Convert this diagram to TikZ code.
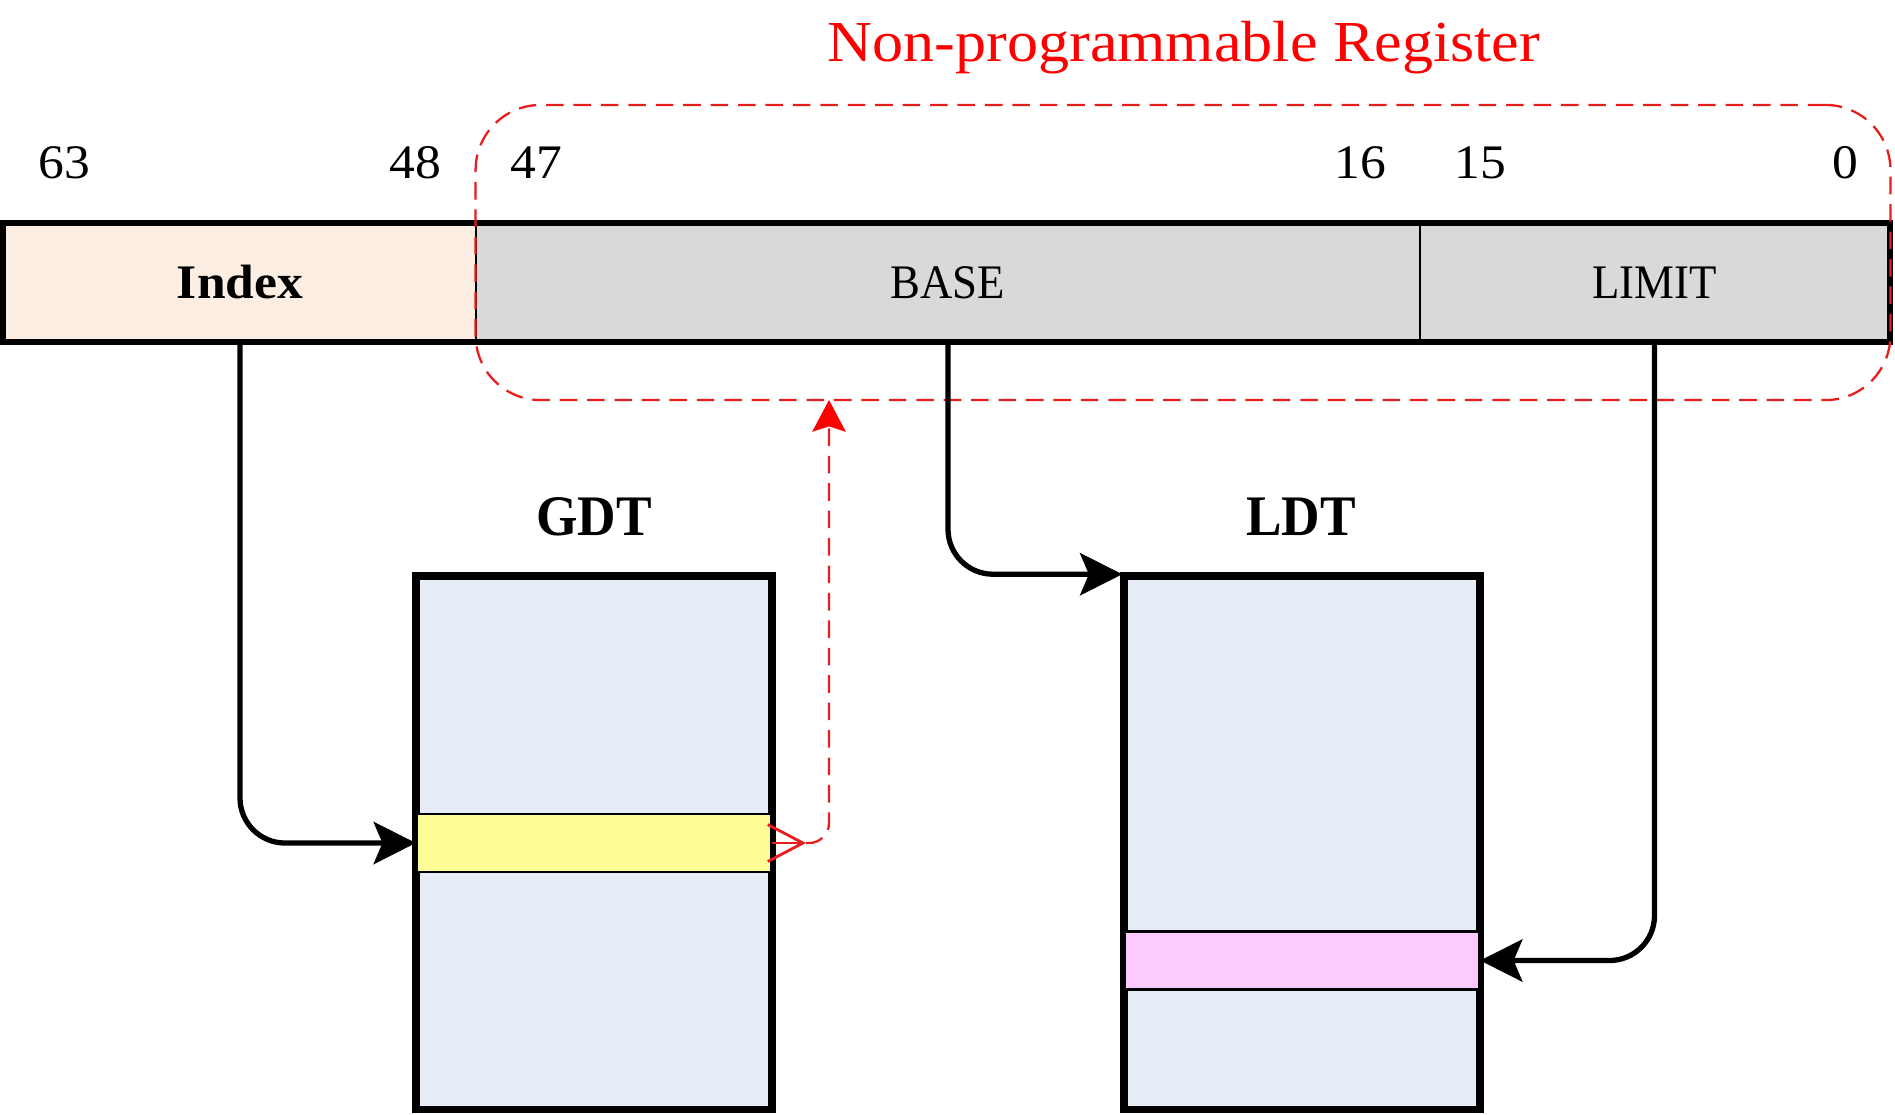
\documentclass[tikz,border=0pt]{standalone}
\usepackage{fontspec}
\setmainfont{Liberation Serif}[FakeStretch=1.07]
\newfontfamily\capsfont{Liberation Serif}[FakeStretch=0.93]
\usetikzlibrary{arrows.meta}
\definecolor{idxfill}{RGB}{252,238,226}
\definecolor{regfill}{RGB}{217,217,217}
\definecolor{tblue}{RGB}{230,237,247}
\definecolor{rowyellow}{RGB}{253,253,152}
\definecolor{rowpink}{RGB}{252,202,252}
\definecolor{npred}{RGB}{232,30,30}
\tikzset{
  lbl/.style={font=\fontsize{13.7}{16}\selectfont, inner sep=0pt},
  field/.style={draw, line width=0.6pt, minimum height=1.17cm, inner sep=0pt, font=\capsfont\fontsize{13.7}{16}\selectfont},
  tablebox/.style={draw, line width=1.5pt, fill=tblue, minimum width=3.54cm, minimum height=5.31cm, inner sep=0pt},
  rowbox/.style={draw, line width=0.6pt, minimum width=3.54cm, minimum height=0.58cm, inner sep=0pt},
  tabtitle/.style={font=\capsfont\fontsize{16.3}{19}\selectfont\bfseries, inner sep=0pt},
  conn/.style={line width=1.5pt, rounded corners=0.45cm, -{Stealth[length=12pt,width=12pt,inset=2.5pt]}},
  reddash/.style={draw=npred, line width=0.65pt, dash pattern=on 5pt off 2.8pt},
}
\begin{document}
\begin{tikzpicture}[x=0.01cm,y=-0.01cm]
\useasboundingbox[fill=white] (0,0) rectangle (1895,1114);
% title
\node[lbl, text=red, font=\fontsize{16.5}{19}\selectfont] (title) at (1184,48) {Non-programmable Register};
% bit numbers
\node[lbl] (n63) at (64,163) {63};
\node[lbl] (n48) at (415,163) {48};
\node[lbl] (n47) at (536,163) {47};
\node[lbl] (n16) at (1360,163) {16};
\node[lbl] (n15) at (1480,163) {15};
\node[lbl] (n0)  at (1845,163) {0};
% register fields
\node[field, fill=idxfill, minimum width=4.72cm, font=\fontsize{13.7}{16}\selectfont\bfseries] (idx) at (240,282.5) {Index};
\node[field, fill=regfill, minimum width=9.44cm] (base) at (948,282.5) {BASE};
\node[field, fill=regfill, minimum width=4.69cm] (limit) at (1654.5,282.5) {LIMIT};
\draw[line width=1.8pt] (idx.north west) rectangle (limit.south east);
% non-programmable region
\node[reddash, rounded corners=0.65cm, minimum width=14.14cm, minimum height=2.95cm, inner sep=0pt] (np) at (1183,252.5) {};
% tables
\node[tabtitle] (gdtlbl) at (594,517) {GDT};
\node[tabtitle] (ldtlbl) at (1301,517) {LDT};
\node[tablebox] (gdt) at (594,842.5) {};
\node[rowbox, fill=rowyellow] (gdtrow) at (594,843) {};
\draw[line width=1.5pt] (gdt.north west) rectangle (gdt.south east);
\node[tablebox] (ldt) at (1302,842.5) {};
\node[rowbox, fill=rowpink] (ldtrow) at (1302,960.5) {};
\draw[line width=1.5pt] (ldt.north west) rectangle (ldt.south east);
% connectors
\draw[conn] (idx.south) |- (gdtrow.west);
\draw[conn] (base.south) |- (ldt.north west);
\draw[conn] (limit.south) |- (ldtrow.east);
% red feedback connector
\coordinate (vtip) at (806,843);
\coordinate (redtop) at (829,400);
\draw[npred, line width=0.8pt, -{Straight Barb[length=10pt,width=10.5pt]}] (gdtrow.east) -- (vtip);
\draw[reddash, rounded corners=0.2cm, -{Stealth[length=9pt,width=9.5pt,inset=1.5pt,color=red]}] (vtip) -| (redtop);
\end{tikzpicture}
\end{document}
